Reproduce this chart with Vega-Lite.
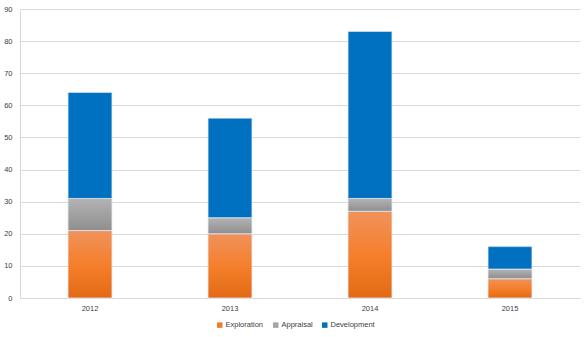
{
  "$schema": "https://vega.github.io/schema/vega-lite/v6.json",
  "width": 560,
  "height": 289,
  "autosize": "none",
  "padding": {"left": 20, "top": 9, "right": 5, "bottom": 39},
  "background": "white",
  "config": {
    "view": {"stroke": null},
    "font": "Liberation Sans",
    "axis": {"labelFont": "Liberation Sans", "labelFontSize": 7.5, "labelColor": "#404040"},
    "legend": {"labelFont": "Liberation Sans", "labelFontSize": 7.5, "labelColor": "#404040"}
  },
  "data": {
    "values": [
      {"year": "2012", "series": "Exploration", "value": 21, "rank": 1},
      {"year": "2012", "series": "Appraisal", "value": 10, "rank": 2},
      {"year": "2012", "series": "Development", "value": 33, "rank": 3},
      {"year": "2013", "series": "Exploration", "value": 20, "rank": 1},
      {"year": "2013", "series": "Appraisal", "value": 5, "rank": 2},
      {"year": "2013", "series": "Development", "value": 31, "rank": 3},
      {"year": "2014", "series": "Exploration", "value": 27, "rank": 1},
      {"year": "2014", "series": "Appraisal", "value": 4, "rank": 2},
      {"year": "2014", "series": "Development", "value": 52, "rank": 3},
      {"year": "2015", "series": "Exploration", "value": 6, "rank": 1},
      {"year": "2015", "series": "Appraisal", "value": 3, "rank": 2},
      {"year": "2015", "series": "Development", "value": 7, "rank": 3}
    ]
  },
  "encoding": {
    "x": {
      "field": "year", "type": "ordinal", "title": null,
      "scale": {"paddingInner": 0.686, "paddingOuter": 0.343},
      "axis": {"labelAngle": 0, "ticks": false, "domainColor": "#d9d9d9", "labelPadding": 6, "grid": false}
    },
    "y": {
      "field": "value", "type": "quantitative", "stack": "zero", "title": null,
      "scale": {"domain": [0, 90], "nice": false},
      "axis": {"values": [0,10,20,30,40,50,60,70,80,90], "ticks": false, "domainColor": "#d9d9d9", "gridColor": "#d9d9d9", "labelPadding": 8}
    },
    "order": {"field": "rank", "type": "quantitative"}
  },
  "layer": [
    {
      "mark": {"type": "bar"},
      "encoding": {
        "color": {
          "field": "series", "type": "nominal",
          "scale": {"domain": ["Exploration", "Appraisal", "Development"], "range": ["#f07c2c", "#a5a5a5", "#0070c0"]},
          "legend": {"title": null, "orient": "none", "legendX": 196, "legendY": 312, "direction": "horizontal", "symbolType": "square", "symbolSize": 30, "columnPadding": 8, "labelOffset": 2}
        }
      }
    },
    {
      "mark": {"type": "bar", "stroke": "#e3eaf2", "strokeWidth": 0.8},
      "encoding": {
        "fill": {
          "condition": [
            {"test": "datum.series === 'Exploration'", "value": {"gradient": "linear", "x1": 0, "y1": 0, "x2": 0, "y2": 1, "stops": [{"offset": 0, "color": "#f0925c"}, {"offset": 0.5, "color": "#f57f2c"}, {"offset": 1, "color": "#e36a14"}]}},
            {"test": "datum.series === 'Appraisal'", "value": {"gradient": "linear", "x1": 0, "y1": 0, "x2": 0, "y2": 1, "stops": [{"offset": 0, "color": "#b3b3b3"}, {"offset": 1, "color": "#8f8f8f"}]}}
          ],
          "value": "#0070c0"
        }
      }
    }
  ]
}
